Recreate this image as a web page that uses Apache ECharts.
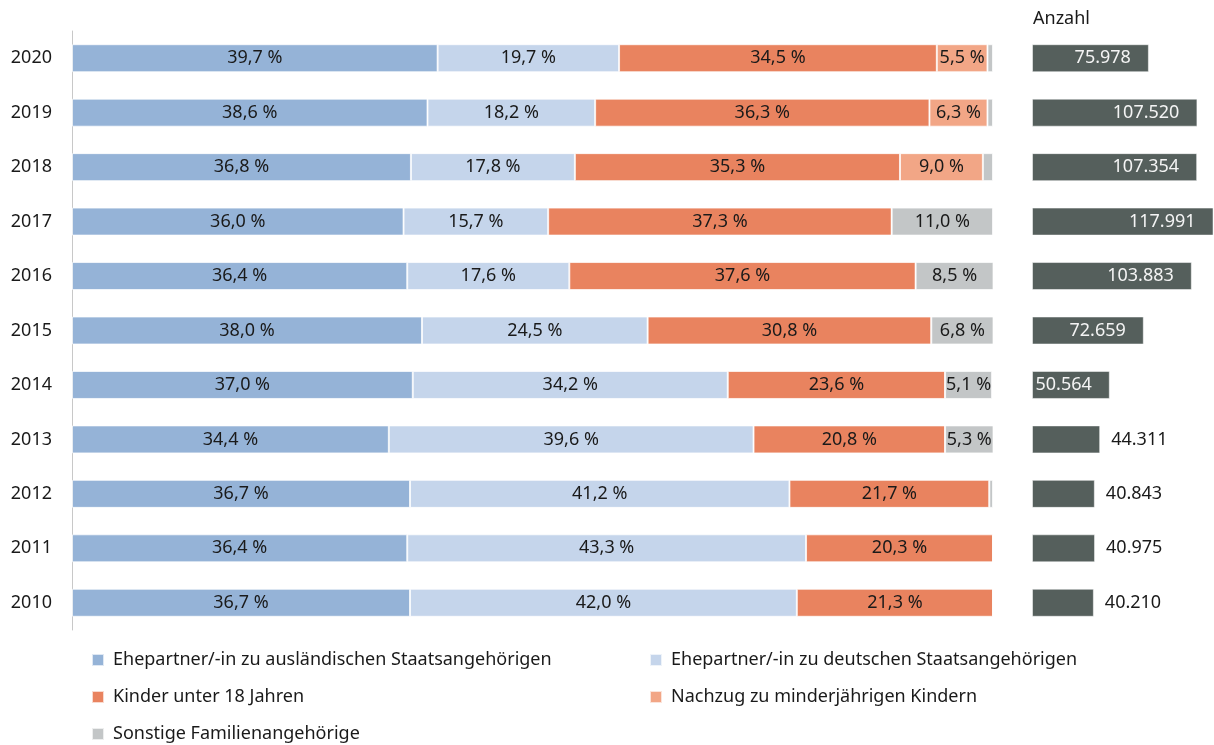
<!DOCTYPE html>
<html>
<head>
<meta charset="utf-8">
<script src="https://cdn.jsdelivr.net/npm/echarts@6/dist/echarts.min.js"></script>
<style>
  html, body { margin: 0; padding: 0; background: #fff; }
  #chart { width: 1214px; height: 745px; }
</style>
</head>
<body>
<div id="chart"></div>
<script>
// Familiennachzug nach Gruppen (Anteile in %) und Anzahl insgesamt
const years = ['2020', '2019', '2018', '2017', '2016', '2015', '2014', '2013', '2012', '2011', '2010'];
const ehepartnerAuslaendisch = [39.7, 38.6, 36.8, 36.0, 36.4, 38.0, 37.0, 34.4, 36.7, 36.4, 36.7];
const ehepartnerDeutsch = [19.7, 18.2, 17.8, 15.7, 17.6, 24.5, 34.2, 39.6, 41.2, 43.3, 42.0];
const kinderUnter18 = [34.5, 36.3, 35.3, 37.3, 37.6, 30.8, 23.6, 20.8, 21.7, 20.3, 21.3];
const nachzugMinderjaehrige = [5.5, 6.3, 9.0, 0, 0, 0, 0, 0, 0, 0, 0];
const sonstige = [0.6, 0.6, 1.1, 11.0, 8.5, 6.8, 5.1, 5.3, 0.4, 0, 0];
const anzahl = [75978, 107520, 107354, 117991, 103883, 72659, 50564, 44311, 40843, 40975, 40210];

const seriesNames = [
  'Ehepartner/-in zu ausländischen Staatsangehörigen',
  'Ehepartner/-in zu deutschen Staatsangehörigen',
  'Kinder unter 18 Jahren',
  'Nachzug zu minderjährigen Kindern',
  'Sonstige Familienangehörige'
];
const seriesData = [ehepartnerAuslaendisch, ehepartnerDeutsch, kinderUnter18, nachzugMinderjaehrige, sonstige];
const colors = ['#95b3d7', '#c5d5eb', '#e9835f', '#f2a686', '#c3c6c7'];

const FONT = 'Noto Sans';
const TEXT = '#1a1a1a';
const FS = 18;

const fmtPct = v => v.toFixed(1).replace('.', ',') + ' %';
const fmtNum = v => String(v).replace(/\B(?=(\d{3})+(?!\d))/g, '.');

const GRID_TOP = 31, GRID_H = 599;

const stackSeries = seriesNames.map((name, i) => ({
  name,
  type: 'bar',
  stack: 'anteil',
  xAxisIndex: 0,
  yAxisIndex: 0,
  barWidth: 28,
  data: seriesData[i],
  itemStyle: { color: colors[i], borderColor: 'rgba(255,255,255,0.7)', borderWidth: 1 },
  label: {
    show: true,
    position: 'inside',
    fontFamily: FONT,
    fontSize: FS,
    color: TEXT,
    formatter: p => (p.value >= 3 ? fmtPct(p.value) : '')
  },
  emphasis: { disabled: true }
}));

const anzahlSeries = {
  name: 'Anzahl',
  type: 'bar',
  xAxisIndex: 1,
  yAxisIndex: 1,
  barWidth: 28,
  data: anzahl.map(v => ({
    value: v,
    label: v >= 50000
      ? { position: 'insideRight', distance: 18, color: '#f4f4f4' }
      : { position: 'right', distance: 11, color: TEXT }
  })),
  itemStyle: { color: '#555f5c', borderColor: 'rgba(255,255,255,0.5)', borderWidth: 1 },
  label: {
    show: true,
    fontFamily: FONT,
    fontSize: FS,
    formatter: p => fmtNum(p.value)
  },
  emphasis: { disabled: true }
};

// legend layout: two columns, one component per row entry
const legendSlots = [
  { name: seriesNames[0], left: 86, top: 649 },
  { name: seriesNames[1], left: 644, top: 649 },
  { name: seriesNames[2], left: 86, top: 686 },
  { name: seriesNames[3], left: 644, top: 686 },
  { name: seriesNames[4], left: 86, top: 723 }
];
const legends = legendSlots.map(s => ({
  left: s.left,
  top: s.top,
  padding: [0, 5],
  itemWidth: 12,
  itemHeight: 12,
  icon: 'rect',
  data: [s.name],
  textStyle: { fontFamily: FONT, fontSize: FS, color: TEXT, lineHeight: 22, padding: [0, 0, 0, 4] },
  selectedMode: false
}));

const chart = echarts.init(document.getElementById('chart'), null, { renderer: 'canvas' });
chart.setOption({
  animation: false,
  backgroundColor: '#ffffff',
  textStyle: { fontFamily: FONT },
  title: {
    text: 'Anzahl',
    left: 1028,
    top: 5,
    textStyle: { fontFamily: FONT, fontSize: FS, fontWeight: 'normal', color: TEXT }
  },
  legend: legends,
  grid: [
    { left: 72, width: 921, top: GRID_TOP, height: GRID_H },
    { left: 1032, width: 184, top: GRID_TOP, height: GRID_H }
  ],
  xAxis: [
    { gridIndex: 0, type: 'value', min: 0, max: 100, show: false },
    { gridIndex: 1, type: 'value', min: 0, max: 118300, show: false }
  ],
  yAxis: [
    {
      gridIndex: 0,
      type: 'category',
      inverse: true,
      data: years,
      axisLine: { show: true, lineStyle: { color: '#c8c8c8', width: 1 } },
      axisTick: { show: false },
      axisLabel: { fontFamily: FONT, fontSize: FS, color: TEXT, margin: 20 }
    },
    {
      gridIndex: 1,
      type: 'category',
      inverse: true,
      data: years,
      show: false
    }
  ],
  series: [...stackSeries, anzahlSeries]
});
</script>
</body>
</html>
